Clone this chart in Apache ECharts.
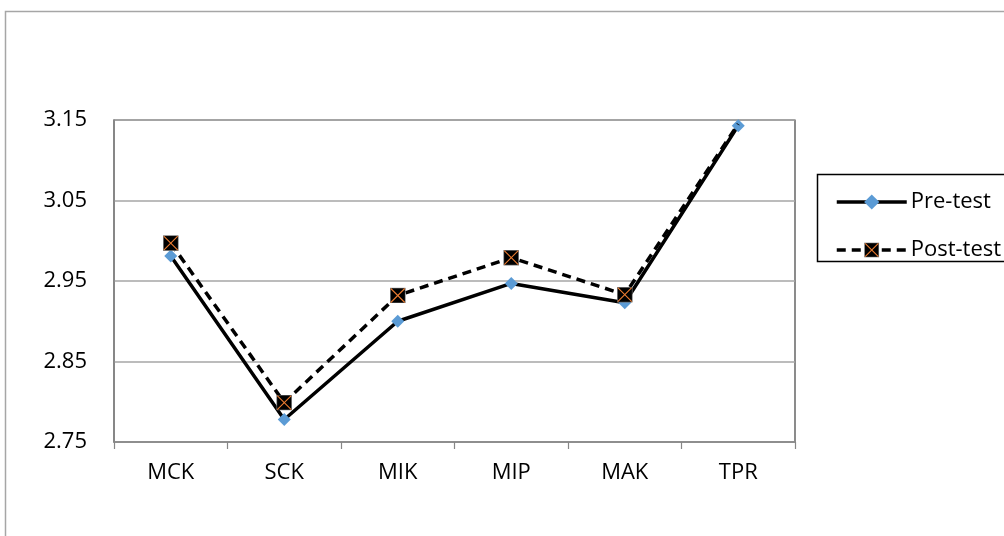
<!DOCTYPE html>
<html>
<head>
<meta charset="utf-8">
<script src="https://cdn.jsdelivr.net/npm/echarts@6/dist/echarts.min.js"></script>
<style>
  html, body { margin: 0; padding: 0; background: #ffffff; }
  #chart { width: 1004px; height: 536px; }
</style>
</head>
<body>
<div id="chart"></div>
<script>
// Mean scores per knowledge domain
const categories = ['MCK', 'SCK', 'MIK', 'MIP', 'MAK', 'TPR'];
const preTest  = [2.981, 2.778, 2.900, 2.947, 2.923, 3.143];
const postTest = [2.997, 2.799, 2.932, 2.979, 2.933, 3.145];
const yTicks = { min: 2.75, max: 3.15, step: 0.1 };

const FONT = '"Open Sans", "Noto Sans", sans-serif';

// Black square marker crossed by an orange X
const squareX = 'image://data:image/svg+xml;utf8,' + encodeURIComponent(
  '<svg xmlns="http://www.w3.org/2000/svg" width="32" height="32" viewBox="0 0 32 32">' +
  '<rect x="1" y="1" width="30" height="30" fill="#000000" stroke="#7f7f7f" stroke-width="1.5"/>' +
  '<line x1="2" y1="2" x2="30" y2="30" stroke="#ED7D31" stroke-width="2.2"/>' +
  '<line x1="30" y1="2" x2="2" y2="30" stroke="#ED7D31" stroke-width="2.2"/>' +
  '</svg>');

// last post-test point is drawn without a marker
const postData = postTest.map((v, i) =>
  i === postTest.length - 1 ? { value: v, symbol: 'none' } : v);

const chart = echarts.init(document.getElementById('chart'), null, { renderer: 'canvas' });

chart.setOption({
  animation: false,
  backgroundColor: '#ffffff',
  graphic: [
    {
      type: 'rect',
      z: -10,
      shape: { x: 5.5, y: 11.5, width: 1200, height: 700 },
      style: { fill: 'none', stroke: '#a6a6a6', lineWidth: 1.5 }
    },
    {
      type: 'rect',
      z: -5,
      shape: { x: 817.5, y: 174.5, width: 300, height: 87 },
      style: { fill: '#ffffff', stroke: '#000000', lineWidth: 1.5 }
    }
  ],
  grid: {
    left: 114, right: 209, top: 120, bottom: 94,
    show: true,
    borderColor: '#404040',
    borderWidth: 1.2,
    backgroundColor: '#ffffff'
  },
  legend: {
    orient: 'vertical',
    left: 830,
    top: 184,
    itemWidth: 70,
    itemHeight: 19,
    itemGap: 22,
    textStyle: { fontFamily: FONT, fontSize: 22, color: '#000000', lineHeight: 26, padding: [0, 0, 0, -1] },
    lineStyle: { width: 3.5 },
    data: ['Pre-test', 'Post-test']
  },
  xAxis: {
    type: 'category',
    data: categories,
    boundaryGap: true,
    axisLine: { show: true, lineStyle: { color: '#868686', width: 1.5 } },
    axisTick: { show: true, length: 7, inside: false, lineStyle: { color: '#868686', width: 1.2 } },
    axisLabel: { fontFamily: FONT, fontSize: 22, color: '#000000', margin: 20 },
    splitLine: { show: false }
  },
  yAxis: {
    type: 'value',
    min: yTicks.min,
    max: yTicks.max,
    interval: yTicks.step,
    axisLine: { show: true, lineStyle: { color: '#868686', width: 1.5 } },
    axisTick: { show: false },
    axisLabel: {
      fontFamily: FONT, fontSize: 22, color: '#000000', margin: 27,
      formatter: v => v.toFixed(2)
    },
    splitLine: { show: true, lineStyle: { color: '#a6a6a6', width: 1.5 } }
  },
  series: [
    {
      name: 'Pre-test',
      type: 'line',
      data: preTest,
      symbol: 'diamond',
      symbolSize: 13,
      itemStyle: { color: '#5B9BD5' },
      lineStyle: { color: '#000000', width: 3.5, type: 'solid' },
      z: 2
    },
    {
      name: 'Post-test',
      type: 'line',
      data: postData,
      symbol: squareX,
      symbolSize: 16,
      itemStyle: { color: '#000000' },
      lineStyle: { color: '#000000', width: 3.5, type: [9, 6] },
      z: 3
    }
  ]
});
</script>
</body>
</html>
